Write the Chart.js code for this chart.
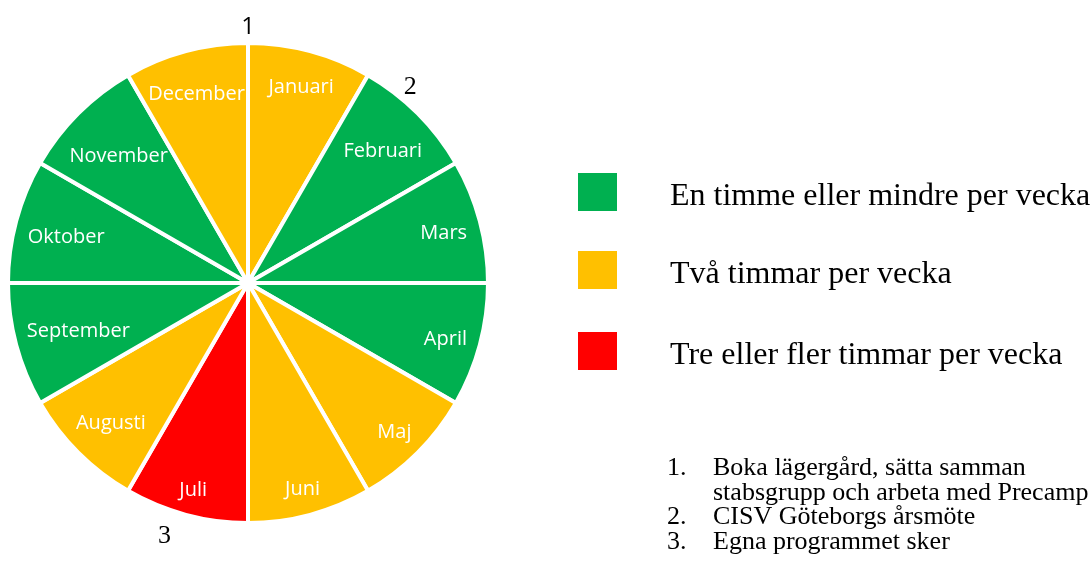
<!DOCTYPE html>
<html>
<head>
<meta charset="utf-8">
<script src="https://cdn.jsdelivr.net/npm/chart.js@4"></script>
<style>
  body { margin: 0; background: #fff; }
  #wrap { width: 1092px; height: 574px; position: relative; }
</style>
</head>
<body>
<div id="wrap"><canvas id="myChart"></canvas></div>
<script>
// months, clockwise from the top
const months = ['Januari', 'Februari', 'Mars', 'April', 'Maj', 'Juni',
                'Juli', 'Augusti', 'September', 'Oktober', 'November', 'December'];
// every month is one equal slice
const sliceValues = [1, 1, 1, 1, 1, 1, 1, 1, 1, 1, 1, 1];
// workload level per month: 1 = en timme eller mindre, 2 = två timmar, 3 = tre eller fler
const workload = [2, 1, 1, 1, 2, 2, 3, 2, 1, 1, 1, 2];
const legendLabels = ['En timme eller mindre per vecka', 'Två timmar per vecka', 'Tre eller fler timmar per vecka'];
const markerLabels = ['1', '2', '3'];
const noteNumbers = ['1.', '', '2.', '3.'];
const noteLines = ['Boka lägergård, sätta samman', 'stabsgrupp och arbeta med Precamp',
                   'CISV Göteborgs årsmöte', 'Egna programmet sker'];

const levelColors = { 1: '#00B050', 2: '#FFC000', 3: '#FF0000' };

const wheelText = {
    id: 'wheelText',
    afterDraw(chart) {
        const ctx = chart.ctx;
        const arcs = chart.getDatasetMeta(0).data;
        ctx.save();

        // month labels, placed "inside end" like Excel does
        ctx.font = '20px "Open Sans"';
        ctx.fillStyle = '#fff';
        ctx.textAlign = 'center';
        ctx.textBaseline = 'middle';
        arcs.forEach((arc, i) => {
            const p = arc.getProps(['x', 'y', 'startAngle', 'endAngle', 'outerRadius'], true);
            const mid = (p.startAngle + p.endAngle) / 2;
            const ux = Math.cos(mid), uy = Math.sin(mid);
            const w = ctx.measureText(months[i]).width / 2;
            const h = 14;
            const L = p.outerRadius - 11;
            const b = Math.abs(ux) * w + Math.abs(uy) * h;
            const d = -b + Math.sqrt(b * b - (w * w + h * h - L * L));
            ctx.fillText(months[i], p.x + ux * d, p.y + uy * d + 3);
        });

        // numbered markers round the wheel
        const a0 = arcs[0].getProps(['x', 'y', 'outerRadius'], true);
        const markerAngle = [0, 39.7, 198.2];
        const markerDist = [16, 14, 27];
        const markerFont = ['24px "Open Sans"', '26px "Liberation Serif"', '26px "Liberation Serif"'];
        ctx.fillStyle = '#000';
        markerLabels.forEach((t, i) => {
            const a = markerAngle[i] * Math.PI / 180;
            const r = a0.outerRadius + markerDist[i];
            ctx.font = markerFont[i];
            ctx.fillText(t, a0.x + r * Math.sin(a), a0.y - r * Math.cos(a));
        });

        // legend
        ctx.textAlign = 'left';
        ctx.textBaseline = 'alphabetic';
        ctx.font = '32px "Liberation Serif"';
        const rowTop = [173, 251, 332];
        legendLabels.forEach((t, i) => {
            ctx.fillStyle = levelColors[i + 1];
            ctx.fillRect(578, rowTop[i], 39, 38);
            ctx.fillStyle = '#000';
            ctx.fillText(t, 670, rowTop[i] + 32);
        });

        // notes
        ctx.font = '26px "Liberation Serif"';
        noteLines.forEach((t, i) => {
            const y = 475 + i * 24.5;
            if (noteNumbers[i]) ctx.fillText(noteNumbers[i], 667, y);
            ctx.fillText(t, 713, y);
        });
        ctx.restore();
    }
};

const ctx = document.getElementById('myChart').getContext('2d');
const myChart = new Chart(ctx, {
    type: 'pie',
    data: {
        labels: months,
        datasets: [{
            data: sliceValues,
            backgroundColor: workload.map(l => levelColors[l]),
            borderColor: '#fff',
            borderWidth: 4,
            hoverBorderWidth: 4,
            hoverOffset: 0
        }]
    },
    options: {
        responsive: true,
        maintainAspectRatio: false,
        animation: false,
        layout: {
            padding: { left: 6, top: 41, right: 602, bottom: 49 }
        },
        plugins: {
            legend: { display: false },
            tooltip: { enabled: false }
        }
    },
    plugins: [wheelText]
});
</script>
</body>
</html>
